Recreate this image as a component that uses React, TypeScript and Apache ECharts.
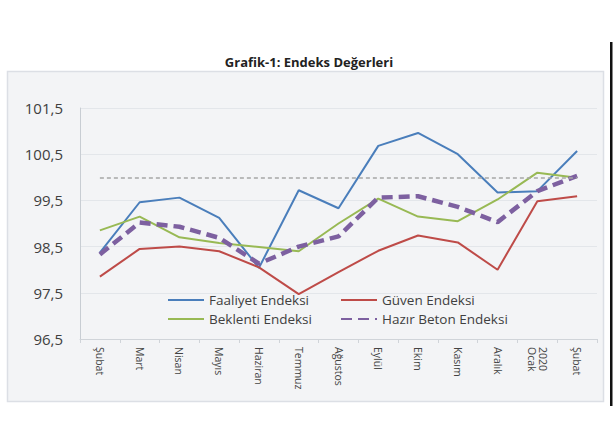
import React, { useEffect, useRef } from "react";
import * as echarts from "echarts";

const categories = ["Şubat", "Mart", "Nisan", "Mayıs", "Haziran", "Temmuz", "Ağustos", "Eylül", "Ekim", "Kasım", "Aralık", "Ocak 2020", "Şubat"];
const faaliyet = [98.37, 99.46, 99.56, 99.12, 98.04, 99.72, 99.33, 100.68, 100.96, 100.5, 99.67, 99.7, 100.57];
const guven = [97.85, 98.45, 98.5, 98.4, 98.05, 97.47, 97.95, 98.41, 98.74, 98.59, 98.0, 99.48, 99.59];
const beklenti = [98.85, 99.15, 98.7, 98.58, 98.49, 98.4, 99.0, 99.54, 99.15, 99.05, 99.52, 100.1, 99.99];
const hazirBeton = [98.33, 99.02, 98.93, 98.69, 98.13, 98.5, 98.72, 99.56, 99.59, 99.36, 99.03, 99.7, 100.03];
const referenceLevel = 100;
const yTicks = { min: 96.5, max: 101.5, interval: 1 };

const FONT = "'Open Sans', 'Noto Sans', sans-serif";

export default function App() {
  const ref = useRef<HTMLDivElement>(null);
  useEffect(() => {
    if (!ref.current) return;
    const chart = echarts.init(ref.current, null, { renderer: "svg" });
    const lineSeries = (name: string, data: number[], color: string, width: number, dashed?: boolean) => ({
      name,
      type: "line",
      data,
      showSymbol: false,
      symbol: "none",
      smooth: false,
      lineStyle: { color, width, type: dashed ? [11, 6] : "solid", cap: "butt" },
      itemStyle: { color },
      z: dashed ? 4 : 3,
    });
    const s1: any = lineSeries("Faaliyet Endeksi", faaliyet, "#4a7ebb", 2);
    s1.markLine = {
      silent: true,
      symbol: "none",
      label: { show: false },
      lineStyle: { color: "#a6a6a6", type: [4, 3], width: 1.5 },
      data: [[{ coord: [0, referenceLevel] }, { coord: [categories.length - 1, referenceLevel] }]],
    };
    const legendCommon = {
      orient: "vertical",
      top: 288,
      itemWidth: 36,
      itemHeight: 10,
      itemGap: 5,
      itemStyle: { opacity: 0 },
      textStyle: { fontFamily: FONT, fontSize: 13.5, color: "#404040" },
    };
    chart.setOption({
      animation: false,
      backgroundColor: "#ffffff",
      title: {
        text: "Grafik-1: Endeks Değerleri",
        left: 304,
        textAlign: "center",
        top: 50,
        textStyle: { fontFamily: FONT, fontSize: 13, fontWeight: "bold", color: "#222" },
      },
      graphic: [
        {
          type: "rect",
          shape: { x: 7.5, y: 71.5, width: 596, height: 330 },
          style: { fill: "#f3f4f6", stroke: "#dcdfe5", lineWidth: 1.5 },
          z: -10,
          silent: true,
        },
        {
          type: "rect",
          shape: { x: 610, y: 42, width: 2.5, height: 364 },
          style: { fill: "#111" },
          silent: true,
        },
      ],
      legend: [
        { ...legendCommon, data: ["Faaliyet Endeksi", "Beklenti Endeksi"], left: 162 },
        { ...legendCommon, data: ["Güven Endeksi", "Hazır Beton Endeksi"], left: 335 },
      ],
      grid: { left: 80, right: 19, top: 108, bottom: 101, containLabel: false },
      xAxis: {
        type: "category",
        data: categories,
        boundaryGap: true,
        axisLine: { show: true, lineStyle: { color: "#d0d4d9", width: 1 } },
        axisTick: { show: true, lineStyle: { color: "#d0d4d9" }, length: 4 },
        axisLabel: {
          rotate: -90,
          interval: 0,
          fontFamily: FONT,
          fontSize: 10.5,
          color: "#444",
          margin: 8,
          lineHeight: 11,
          formatter: (v: string) => (v === "Ocak 2020" ? "2020\nOcak" : v),
        },
      },
      yAxis: {
        type: "value",
        min: yTicks.min,
        max: yTicks.max,
        interval: yTicks.interval,
        axisLine: { show: true, lineStyle: { color: "#c8cdd3", width: 1 } },
        axisTick: { show: false },
        splitLine: { show: true, lineStyle: { color: "#e3e6ea", width: 1 } },
        axisLabel: {
          fontFamily: FONT,
          fontSize: 15,
          color: "#404040",
          margin: 17,
          formatter: (v: number) => v.toFixed(1).replace(".", ","),
        },
      },
      series: [
        s1,
        lineSeries("Güven Endeksi", guven, "#be4b48", 2),
        lineSeries("Beklenti Endeksi", beklenti, "#98b954", 2),
        lineSeries("Hazır Beton Endeksi", hazirBeton, "#7d60a0", 4.5, true),
      ],
    });
    return () => chart.dispose();
  }, []);
  return <div ref={ref} style={{ position: "fixed", left: 0, top: 0, width: 616, height: 440 }} />;
}
